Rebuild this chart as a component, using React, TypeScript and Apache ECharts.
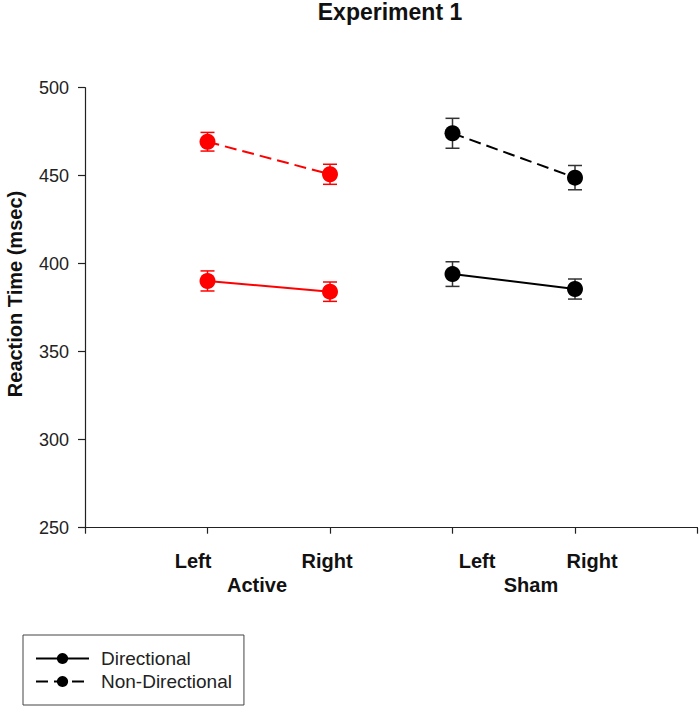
import React, { useEffect, useRef } from "react";
import * as echarts from "echarts";

const titleText = "Experiment 1";
const yAxisTitle = "Reaction Time (msec)";
const sideLabels = ["Left", "Right", "Left", "Right"];
const groupLabels = ["Active", "Sham"];
const seriesNames = ["Directional", "Non-Directional"];

// x positions on the value axis
const activeX = [1, 2];
const shamX = [3, 4];

// means (msec) and error (± msec)
const activeDirectional = [390.2, 384.1];
const activeDirectionalErr = [5.7, 5.5];
const activeNonDirectional = [469.3, 450.8];
const activeNonDirectionalErr = [5.3, 5.7];
const shamDirectional = [394.1, 385.6];
const shamDirectionalErr = [7.0, 5.7];
const shamNonDirectional = [474.1, 448.9];
const shamNonDirectionalErr = [8.5, 6.9];

const yTicks = { min: 250, max: 500, interval: 50 };

const FONT = "'Liberation Sans', Arial, Helvetica, sans-serif";
const RED = "#ff0000";
const BLACK = "#000000";

function pts(xs: number[], ys: number[]) {
  return xs.map((x, i) => [x, ys[i]]);
}
function errs(xs: number[], ys: number[], es: number[]) {
  return xs.map((x, i) => [x, ys[i] - es[i], ys[i] + es[i]]);
}

function errSeries(data: number[][], color: string) {
  return {
    type: "custom",
    z: 1,
    silent: true,
    data,
    encode: { x: 0, y: [1, 2] },
    renderItem: (params: any, api: any) => {
      const x = api.value(0);
      const lo = api.coord([x, api.value(1)]);
      const hi = api.coord([x, api.value(2)]);
      const hw = 7;
      const style = { stroke: color, lineWidth: 1.5 };
      return {
        type: "group",
        children: [
          { type: "line", shape: { x1: lo[0], y1: lo[1], x2: hi[0], y2: hi[1] }, style },
          { type: "line", shape: { x1: hi[0] - hw, y1: hi[1], x2: hi[0] + hw, y2: hi[1] }, style },
          { type: "line", shape: { x1: lo[0] - hw, y1: lo[1], x2: lo[0] + hw, y2: lo[1] }, style },
        ],
      };
    },
  };
}

function lineSeries(name: string, data: number[][], color: string, dashed: boolean) {
  return {
    type: "line",
    name,
    z: 3,
    data,
    symbol: "circle",
    symbolSize: 16,
    itemStyle: { color },
    lineStyle: { color, width: 2, type: dashed ? [12, 6] : "solid" },
  };
}

export default function App() {
  const ref = useRef<HTMLDivElement>(null);

  useEffect(() => {
    if (!ref.current) return;
    const chart = echarts.init(ref.current, undefined, { renderer: "svg" });

    const labelY1 = 561;
    const labelY2 = 585;
    const sideLabelX = [193, 327, 477, 592];
    const groupLabelX = [257, 531];

    const graphics: any[] = [
      {
        type: "text",
        x: 15,
        y: 294,
        rotation: Math.PI / 2,
        style: {
          text: yAxisTitle,
          font: `bold 20px ${FONT}`,
          fill: "#111",
          align: "center",
          verticalAlign: "middle",
        },
      },
      ...sideLabels.map((t, i) => ({
        type: "text",
        x: sideLabelX[i],
        y: labelY1,
        style: { text: t, font: `bold 20px ${FONT}`, fill: "#111", align: "center", verticalAlign: "middle" },
      })),
      ...groupLabels.map((t, i) => ({
        type: "text",
        x: groupLabelX[i],
        y: labelY2,
        style: { text: t, font: `bold 20px ${FONT}`, fill: "#111", align: "center", verticalAlign: "middle" },
      })),
    ];

    chart.setOption({
      animation: false,
      title: {
        text: titleText,
        left: 390,
        top: 0,
        padding: 0,
        textAlign: "center",
        textStyle: { fontFamily: FONT, fontWeight: "bold", fontSize: 23, color: "#111" },
      },
      grid: { left: 85, right: 2.5, top: 87.7, bottom: 709 - 527.7, containLabel: false },
      legend: {
        data: seriesNames,
        orient: "vertical",
        left: 23,
        top: 635,
        selectedMode: false,
        itemWidth: 53,
        itemHeight: 14,
        itemGap: 4,
        padding: [14, 12, 14, 12],
        borderColor: "#444",
        borderWidth: 1,
        textStyle: { fontFamily: FONT, fontSize: 19, color: "#222", padding: [0, 0, 0, 7] },
      },
      xAxis: {
        type: "value",
        min: 0,
        max: 5,
        interval: 1,
        axisLine: { show: true, lineStyle: { color: "#222", width: 1.2 } },
        axisTick: { show: true, length: 6, lineStyle: { color: "#222", width: 1.2 } },
        axisLabel: { show: false },
        splitLine: { show: false },
      },
      yAxis: {
        type: "value",
        min: yTicks.min,
        max: yTicks.max,
        interval: yTicks.interval,
        axisLine: { show: true, lineStyle: { color: "#222", width: 1.2 } },
        axisTick: { show: true, length: 7, lineStyle: { color: "#222", width: 1.2 } },
        axisLabel: { fontFamily: FONT, fontSize: 18, color: "#222", margin: 16 },
        splitLine: { show: false },
      },
      graphic: graphics,
      series: [
        errSeries(errs(activeX, activeDirectional, activeDirectionalErr), RED),
        errSeries(errs(activeX, activeNonDirectional, activeNonDirectionalErr), RED),
        errSeries(errs(shamX, shamDirectional, shamDirectionalErr), "#333"),
        errSeries(errs(shamX, shamNonDirectional, shamNonDirectionalErr), "#333"),
        lineSeries("Active Directional", pts(activeX, activeDirectional), RED, false),
        lineSeries("Active Non-Directional", pts(activeX, activeNonDirectional), RED, true),
        lineSeries(seriesNames[0], pts(shamX, shamDirectional), BLACK, false),
        lineSeries(seriesNames[1], pts(shamX, shamNonDirectional), BLACK, true),
      ],
    });

    return () => chart.dispose();
  }, []);

  return (
    <div
      ref={ref}
      style={{ position: "fixed", left: 0, top: 0, width: 700, height: 709, background: "#fff" }}
    />
  );
}
